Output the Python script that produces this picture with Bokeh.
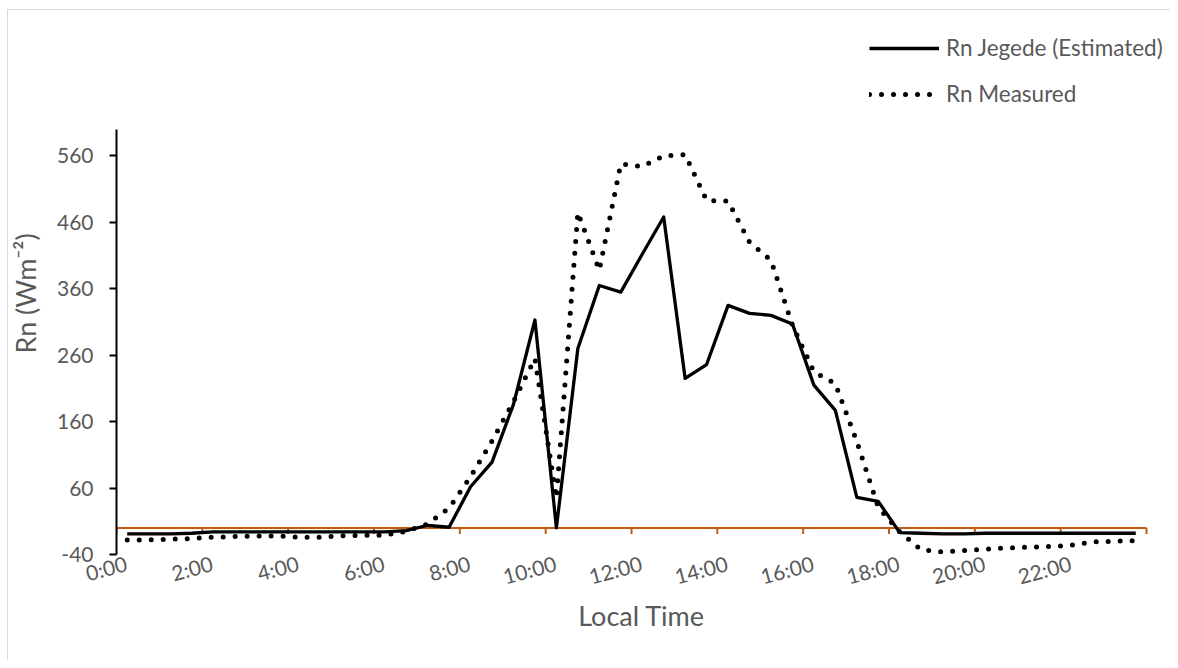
from bokeh.plotting import figure
from bokeh.models import Range1d, FixedTicker, Legend, LegendItem
from bokeh.embed import file_html
from bokeh.resources import INLINE

# ---- data -------------------------------------------------------------
times = [0.25, 0.75, 1.25, 1.75, 2.25, 2.75, 3.25, 3.75, 4.25, 4.75, 5.25, 5.75,
         6.25, 6.75, 7.25, 7.75, 8.25, 8.75, 9.25, 9.75, 10.25, 10.75, 11.25, 11.75,
         12.25, 12.75, 13.25, 13.75, 14.25, 14.75, 15.25, 15.75, 16.25, 16.75, 17.25, 17.75,
         18.25, 18.75, 19.25, 19.75, 20.25, 20.75, 21.25, 21.75, 22.25, 22.75, 23.25, 23.75]

rn_estimated = [-9, -9, -9, -8, -6, -6, -6, -6, -6, -6, -6, -6,
                -6, -4, 4, 1, 62, 99, 186, 313, 0, 270, 365, 355,
                412, 468, 225, 246, 335, 323, 320, 307, 215, 177, 46, 40,
                -7, -8, -9, -9, -8, -8, -8, -8, -8, -8, -8, -8]

rn_measured = [-18, -18, -17, -16, -14, -13, -12, -12, -14, -14, -12, -11,
               -11, -5, 6, 30, 77, 131, 190, 255, 45, 475, 388, 548,
               544, 560, 562, 493, 492, 430, 403, 305, 235, 217, 130, 31,
               -6, -33, -36, -34, -32, -30, -29, -28, -26, -21, -20, -19]

x_ticks = [0, 2, 4, 6, 8, 10, 12, 14, 16, 18, 20, 22]
x_tick_labels = ["0:00", "2:00", "4:00", "6:00", "8:00", "10:00", "12:00",
                 "14:00", "16:00", "18:00", "20:00", "22:00"]
x_axis_marks = [0, 2, 4, 6, 8, 10, 12, 14, 16, 18, 20, 22, 24]
x_bounds = (0, 24)
y_ticks = [-40, 60, 160, 260, 360, 460, 560]
y_tick_labels = ["-40", "60", "160", "260", "360", "460", "560"]
y_bounds = (-40, 600)

FONT = "Lato"
GREY = "#595959"
ORANGE = "#C55A11"
BORDER = "#d9d9d9"
LABEL_SHIFT = 0.23  # hours: rotated labels sit slightly right of their tick, as in Excel

# frame extends above/right of the axes so the legend is not clipped
p = figure(width=1170, height=660, output_backend="svg", toolbar_location=None,
           x_range=Range1d(0, 24.466), y_range=Range1d(-40, 745.8),
           min_border_left=116, min_border_right=4, min_border_top=32,
           min_border_bottom=106)
p.outline_line_color = None
p.grid.visible = False
p.background_fill_color = "white"
p.border_fill_alpha = 0
# light grey chart-area border (top and left edges), drawn behind the transparent canvas border
p.styles = {
    "background-color": "white",
    "background-image": f"linear-gradient({BORDER}, {BORDER}), linear-gradient({BORDER}, {BORDER})",
    "background-position": "7px 9px, 7px 9px",
    "background-size": "1px 100%, 100% 1px",
    "background-repeat": "no-repeat",
}

# orange horizontal axis line at y=0 with tick marks
p.segment(x0=[x_axis_marks[0]], y0=[0], x1=[x_axis_marks[-1]], y1=[0],
          line_color=ORANGE, line_width=2)
p.segment(x0=x_axis_marks, y0=[0] * len(x_axis_marks), x1=x_axis_marks,
          y1=[-9] * len(x_axis_marks), line_color=ORANGE, line_width=2)

# data lines
r_est = p.line(times, rn_estimated, line_color="black", line_width=3.3, line_join="round")
r_mea = p.line(times, rn_measured, line_color="black", line_width=5,
               line_dash="0 12", line_cap="round", line_join="round")

# x axis (labels only, at bottom)
shifted = [t + LABEL_SHIFT for t in x_ticks]
xa = p.xaxis[0]
xa.bounds = x_bounds
xa.ticker = FixedTicker(ticks=shifted, minor_ticks=[])
xa.major_label_overrides = {t: l for t, l in zip(shifted, x_tick_labels)}
xa.major_label_orientation = 0.26
xa.axis_line_color = None
xa.major_tick_line_color = None
xa.minor_tick_line_color = None
xa.major_label_text_font = FONT
xa.major_label_text_font_size = "21px"
xa.major_label_text_color = GREY
xa.major_label_standoff = 2
xa.axis_label = "Local Time"
xa.axis_label_text_font = FONT
xa.axis_label_text_font_size = "27px"
xa.axis_label_text_font_style = "normal"
xa.axis_label_text_color = GREY
xa.axis_label_standoff = -5

ya = p.yaxis[0]
ya.bounds = y_bounds
ya.ticker = FixedTicker(ticks=y_ticks, minor_ticks=[])
ya.major_label_overrides = {t: l for t, l in zip(y_ticks, y_tick_labels)}
ya.axis_line_color = "black"
ya.axis_line_width = 2
ya.major_tick_line_color = "black"
ya.major_tick_line_width = 2
ya.major_tick_in = 0
ya.major_tick_out = 7
ya.minor_tick_line_color = None
ya.major_label_text_font = FONT
ya.major_label_text_font_size = "21px"
ya.major_label_text_color = GREY
ya.major_label_standoff = 16
ya.axis_label = "Rn (Wm\u207b\u00b2)"
ya.axis_label_text_font = FONT
ya.axis_label_text_font_size = "27px"
ya.axis_label_text_font_style = "normal"
ya.axis_label_text_color = GREY
ya.axis_label_standoff = 12

legend = Legend(items=[LegendItem(label="Rn Jegede (Estimated)", renderers=[r_est]),
                       LegendItem(label="Rn Measured", renderers=[r_mea])],
                location=(753, 447), orientation="vertical",
                glyph_width=70, glyph_height=26, label_height=26, spacing=19,
                label_standoff=7, padding=0, margin=0,
                border_line_alpha=0, background_fill_alpha=0,
                label_text_font=FONT, label_text_font_size="22.5px",
                label_text_color=GREY)
p.add_layout(legend)

open("out.html", "w").write(file_html(p, INLINE))
